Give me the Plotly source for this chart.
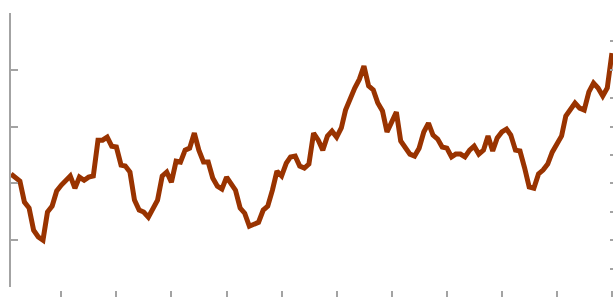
import pandas as pd
import plotly.graph_objects as go

# Monthly series (Feb 2009 .. Jan 2020)
dates = pd.date_range("2009-02-01", "2020-01-01", freq="MS")
values = [
    43.3, 42.2, 40.8, 33.4, 31.3, 23.5, 21.1, 20.0, 29.9, 32.0,
    37.3, 39.4, 41.1, 42.6, 38.3, 42.2, 41.1, 42.2, 42.6, 55.2,
    55.2, 56.3, 53.1, 52.8, 46.4, 46.1, 44.0, 34.1, 30.6, 29.9,
    28.1, 31.3, 34.1, 42.6, 44.0, 40.4, 47.8, 47.5, 51.7, 52.4,
    57.7, 51.7, 47.5, 47.5, 41.9, 39.0, 38.0, 42.2, 39.4, 37.6,
    31.3, 29.5, 24.9, 25.6, 26.3, 30.6, 32.0, 37.6, 44.3, 42.6,
    47.1, 49.3, 49.6, 46.1, 45.4, 46.8, 57.7, 55.2, 51.7, 56.7,
    58.4, 56.3, 59.5, 65.8, 70.4, 73.6, 76.7, 81.3, 74.3, 72.9,
    68.3, 65.5, 58.1, 61.6, 65.1, 54.9, 52.8, 50.3, 49.6, 52.4,
    58.1, 61.2, 57.0, 55.6, 52.8, 52.4, 49.3, 50.3, 50.3, 49.3,
    51.7, 53.1, 50.3, 51.7, 56.7, 51.4, 56.0, 58.1, 59.1, 57.0,
    51.7, 51.4, 45.4, 38.7, 38.3, 43.3, 44.7, 46.8, 51.0, 53.5,
    56.7, 63.7, 66.2, 68.3, 66.5, 65.8, 72.2, 75.3, 73.6, 70.8,
    73.6, 85.9,
]
assert len(values) == len(dates)

x_ticks = ["2009-02-01"] + [f"{y}-01-01" for y in range(2010, 2021)]
y_major = [20, 40, 60, 80, 100]
y_minor = [10, 20, 30, 40, 50, 60, 70, 80, 90, 100]
y_range = [3.5, 100]
x_range = ["2009-02-01", "2020-01-08"]

AX = "#a3a3a3"
LINE = "#993300"

fig = go.Figure()
fig.add_trace(go.Scatter(x=dates, y=values, mode="lines",
                         line=dict(color=LINE, width=5),
                         hoverinfo="skip", showlegend=False))
fig.add_trace(go.Scatter(x=dates, y=values, mode="lines", yaxis="y2",
                         line=dict(color="rgba(0,0,0,0)", width=0),
                         hoverinfo="skip", showlegend=False))

fig.update_layout(
    width=613, height=297,
    margin=dict(l=11, r=0, t=13, b=0, pad=0),
    paper_bgcolor="white", plot_bgcolor="white",
    xaxis=dict(range=x_range, tickvals=x_ticks, ticks="inside", ticklen=6,
               tickwidth=1.5, tickcolor=AX, showticklabels=False,
               showgrid=False, zeroline=False, showline=False,
               anchor="free", position=0, automargin=False),
    yaxis=dict(range=y_range, domain=[10/284, 1], tickvals=y_major,
               ticks="inside", ticklen=7, tickwidth=2, tickcolor=AX,
               showline=True, linecolor=AX, linewidth=2, automargin=False,
               showticklabels=False, showgrid=False, zeroline=False),
    yaxis2=dict(range=y_range, domain=[10/284, 1], overlaying="y", side="right",
                tickvals=y_minor, ticks="inside", ticklen=3, tickwidth=1.5,
                tickcolor=AX, showline=False, showticklabels=False,
                automargin=False,
                showgrid=False, zeroline=False, anchor="x"),
)

# remove the page's default body margin / scrollbars so the figure fills the window
fig.write_html(
    "out.html",
    config={"displayModeBar": False},
    post_script="document.body.style.margin='0';"
                "document.documentElement.style.overflow='hidden';"
                "document.body.style.overflow='hidden';",
)
